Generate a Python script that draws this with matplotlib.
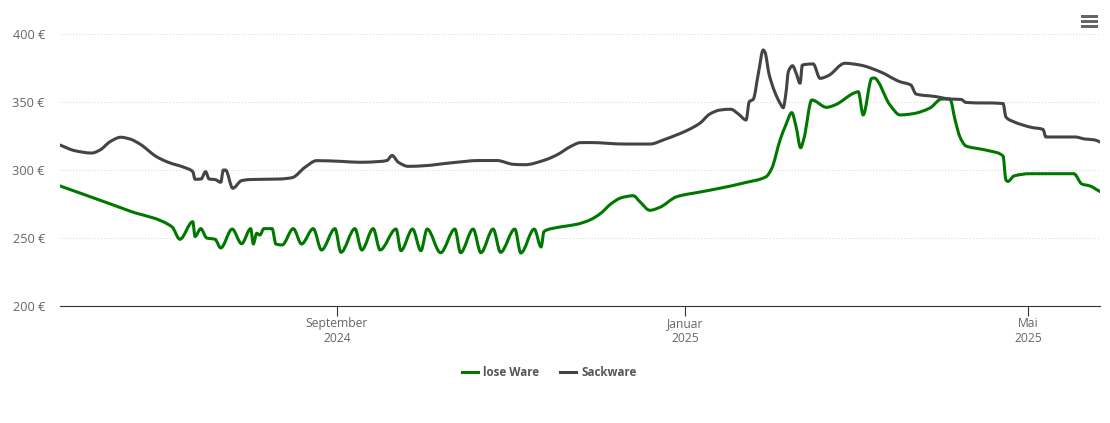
import numpy as np
import matplotlib
matplotlib.use("Agg")
import matplotlib.pyplot as plt
from matplotlib.path import Path
from matplotlib.patches import PathPatch, Rectangle
from matplotlib.lines import Line2D

# days relative to 1 September 2024, prices in euro
lose_days = [-97.0,-83.0,-72.5,-57.8,-55.0,-50.5,-49.7,-47.7,-45.6,-42.7,-40.7,-36.7,-33.4,-30.2,-29.3,-28.1,-27.0,-25.6,-22.7,-21.4,-19.2,-15.3,-12.4,-8.3,-5.4,-0.7,1.4,6.3,8.7,12.7,15.1,20.7,22.4,26.5,29.4,31.6,36.3,41.3,43.3,47.7,50.4,54.7,57.3,62.3,64.4,69.1,71.5,72.5,75.8,78.7,84.0,88.6,92.1,96.2,99.7,103.8,106.1,109.6,113.1,119.0,127.1,134.1,142.9,150.3,152.3,155.2,157.2,159.3,160.8,162.4,163.6,166.3,171.5,174.4,181.4,182.6,184.3,187.3,188.1,193.7,197.2,201.7,207.7,211.8,214.7,216.5,218.2,220.3,225.2,228.7,233.3,234.3,235.0,237.1,242.7,258.1,260.9,263.7,267.2]
lose_eur = [288.5,278.0,270.0,258.5,249.3,262.2,251.3,257.1,250.2,249.3,242.9,256.8,246.0,257.1,245.8,253.7,252.4,257.1,257.1,245.8,245.1,257.1,245.8,257.1,241.4,257.1,239.7,257.1,241.4,257.1,241.4,256.8,240.9,256.8,240.9,256.8,239.4,256.8,239.4,256.8,239.4,256.8,239.7,256.8,239.2,256.8,243.6,254.9,257.4,258.5,260.3,263.5,267.9,275.7,279.9,281.3,276.9,270.6,272.8,280.6,284.0,286.8,290.9,295.3,301.5,322.3,333.3,342.4,332.1,316.6,323.8,351.7,346.3,348.0,357.1,357.8,340.7,367.6,367.9,348.0,340.7,341.6,345.8,352.4,352.4,337.0,324.5,317.9,315.7,314.2,310.5,292.9,291.8,295.8,297.5,297.5,289.9,288.5,284.4]
sack_days = [-97.0,-91.8,-85.9,-83.0,-79.5,-75.7,-72.5,-69.0,-63.2,-59.1,-53.2,-50.5,-49.7,-47.6,-46.0,-44.8,-42.7,-40.7,-39.8,-39.0,-36.5,-33.4,-30.5,-20.0,-15.7,-11.2,-7.1,1.1,8.1,15.1,17.5,19.3,21.5,25.0,30.8,39.6,50.1,56.0,61.8,65.8,72.9,77.0,82.2,85.1,88.6,100.9,109.6,114.9,122.9,127.1,130.6,134.1,137.9,140.6,143.3,144.4,145.8,147.6,149.3,149.9,151.4,155.2,156.3,157.3,158.1,159.6,160.8,162.2,163.0,166.8,169.2,172.1,177.9,183.2,190.2,197.2,201.0,202.8,209.4,214.7,218.6,220.3,233.3,234.3,236.8,243.4,247.3,248.3,258.5,262.0,265.5,267.2]
sack_eur = [318.6,314.4,312.7,314.9,321.0,324.3,323.0,319.3,310.0,305.9,301.9,299.0,293.4,293.6,299.0,293.6,293.2,291.2,300.2,300.2,286.8,292.4,293.2,293.6,294.6,302.2,307.1,306.6,305.9,306.5,307.2,310.9,305.9,302.9,303.4,305.4,307.2,307.2,304.4,304.1,307.6,311.3,317.9,320.3,320.4,319.3,319.3,322.8,329.6,334.6,341.4,344.3,344.9,341.4,337.0,350.4,352.2,371.3,388.5,387.0,370.1,349.3,346.0,357.6,372.5,376.9,371.5,364.0,377.4,378.2,367.6,369.6,378.7,377.4,372.5,365.1,362.7,356.1,354.3,352.4,352.1,349.9,349.1,339.2,335.9,331.5,330.0,324.5,324.5,323.0,322.3,320.8]

y_ticks = [200, 250, 300, 350, 400]
x_ticks = [0, 122, 242]
x_labels = ["September\n2024", "Januar\n2025", "Mai\n2025"]
series_names = ["lose Ware", "Sackware"]

GREEN = "#007800"
DARK = "#434348"
W, H = 1110, 423
FONT = ["Open Sans", "DejaVu Sans"]
plt.rcParams["font.family"] = FONT


def spline_path(xs, ys):
    """Shape-preserving smooth curve through every point, as Bezier segments."""
    xs, ys = np.asarray(xs, float), np.asarray(ys, float)
    dx = np.diff(xs)
    sl = np.diff(ys) / dx
    m = np.zeros_like(xs)
    m[0], m[-1] = sl[0], sl[-1]
    for i in range(1, len(xs) - 1):
        if sl[i - 1] * sl[i] > 0:
            w1, w2 = 2 * dx[i] + dx[i - 1], dx[i] + 2 * dx[i - 1]
            m[i] = (w1 + w2) / (w1 / sl[i - 1] + w2 / sl[i])
    verts, codes = [(xs[0], ys[0])], [Path.MOVETO]
    for i in range(len(xs) - 1):
        h = dx[i] / 3
        verts += [(xs[i] + h, ys[i] + m[i] * h), (xs[i + 1] - h, ys[i + 1] - m[i + 1] * h), (xs[i + 1], ys[i + 1])]
        codes += [Path.CURVE4] * 3
    return Path(verts, codes)


fig = plt.figure(figsize=(W / 100, H / 100), dpi=100, facecolor="white")
top, bottom = 34.3, 306.3
ax = fig.add_axes([60 / W, 1 - bottom / H, 1040 / W, (bottom - top) / H])
ax.set_xlim(-97.0, 267.25)
ax.set_ylim(200, 400)

for s in ["top", "left", "right"]:
    ax.spines[s].set_visible(False)
ax.spines["bottom"].set_color("#333333")
ax.spines["bottom"].set_linewidth(0.8)

ax.set_yticks(y_ticks)
ax.set_yticklabels([f"{v} €" for v in y_ticks])
ax.set_xticks(x_ticks)
ax.set_xticklabels(x_labels, linespacing=1.12)
ax.tick_params(axis="y", length=0, pad=10.8, labelsize=9.2, labelcolor="#666666")
ax.tick_params(axis="x", length=7.2, width=0.8, color="#333333", pad=0.8, labelsize=8.7, labelcolor="#666666")
ax.grid(axis="y", color="#d8d8d8", linewidth=0.75, linestyle=(0, (1, 2)))
ax.set_axisbelow(True)

for days, vals, col in [(lose_days, lose_eur, GREEN), (sack_days, sack_eur, DARK)]:
    ax.add_patch(PathPatch(spline_path(days, vals), fill=False, edgecolor=col,
                           linewidth=2.2, capstyle="round", joinstyle="round", zorder=3))

handles = [Line2D([], [], color=GREEN, lw=2.2), Line2D([], [], color=DARK, lw=2.2)]
leg = fig.legend(handles, series_names, loc="center", bbox_to_anchor=(549.5 / W, 1 - 372.5 / H),
                 ncol=2, frameon=False, handlelength=1.37, handletextpad=0.43, columnspacing=1.8,
                 prop={"size": 8.4, "weight": "bold"}, labelcolor="#555555")

for yy in (14.7, 20.2, 25.3):
    fig.add_artist(Rectangle((1080.5 / W, 1 - (yy + 3) / H), 17 / W, 3 / H, transform=fig.transFigure,
                             facecolor="#666666", edgecolor="none"))

fig.savefig("out.png", dpi=100)
